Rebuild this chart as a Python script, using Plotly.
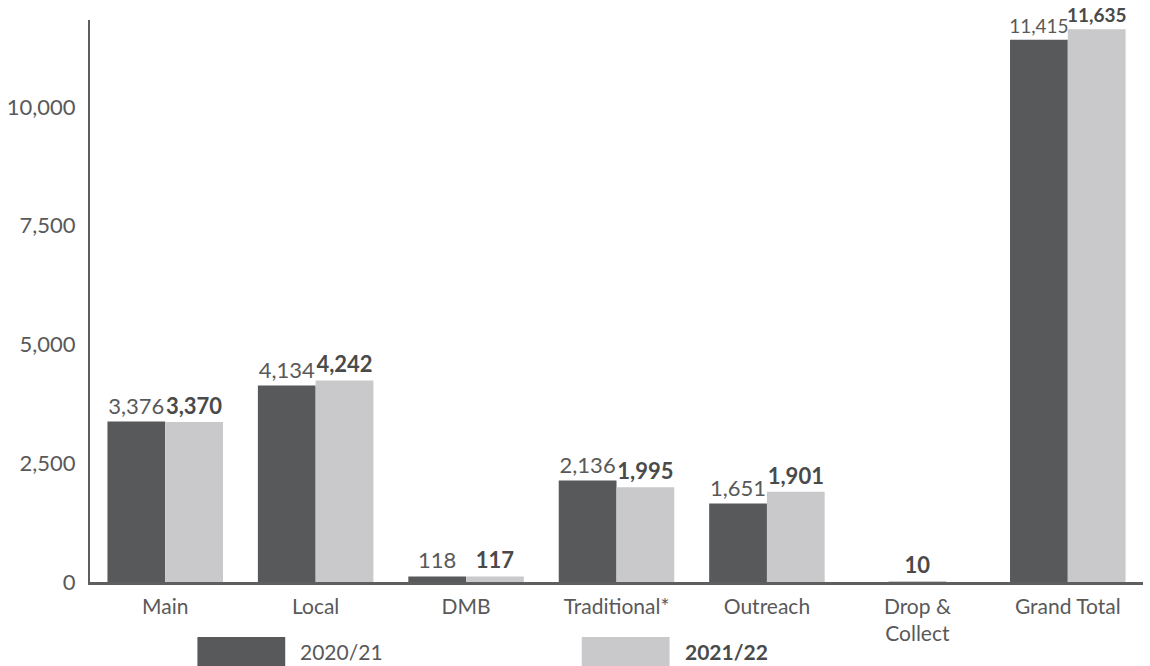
import plotly.graph_objects as go

categories = ["Main", "Local", "DMB", "Traditional*", "Outreach", "Drop &<br>Collect", "Grand Total"]
series_names = ["2020/21", "2021/22"]
values_2021 = [3376, 4134, 118, 2136, 1651, None, 11415]
values_2122 = [3370, 4242, 117, 1995, 1901, 10, 11635]
y_ticks = [0, 2500, 5000, 7500, 10000]

DARK = "#58595b"
LIGHT = "#c9c9cb"
TEXT = "#595959"
BOLD_TEXT = "#4a4a4a"
FONT = "Lato"
FS = 22

W = 0.384  # bar width in category units
x_idx = list(range(len(categories)))

off_dark = [-W] * len(categories)
off_light = [(-W / 2 if v0 is None else 0.0) for v0 in values_2021]
# slightly smaller labels where two five-digit numbers sit side by side
label_sizes = [FS if max(a or 0, b or 0) < 10000 else FS - 3
               for a, b in zip(values_2021, values_2122)]

fig = go.Figure()
fig.add_trace(go.Bar(
    x=x_idx, y=values_2021, name=series_names[0],
    marker=dict(color=DARK, line=dict(width=0)),
    width=W, offset=off_dark,
    text=[None if v is None else f"{v:,}" for v in values_2021],
    textposition="outside", constraintext="none", cliponaxis=False,
    textfont=dict(family=FONT, size=label_sizes, color=TEXT),
    showlegend=False,
))
fig.add_trace(go.Bar(
    x=x_idx, y=values_2122, name=series_names[1],
    marker=dict(color=LIGHT, line=dict(width=0)),
    width=W, offset=off_light,
    text=[f"<b>{v:,}</b>" for v in values_2122],
    textposition="outside", constraintext="none", cliponaxis=False,
    textfont=dict(family=FONT, size=label_sizes, color=BOLD_TEXT),
    showlegend=False,
))

# legend drawn as large swatches
legend_items = [
    (series_names[0], DARK, 0.102, False),
    (series_names[1], LIGHT, 0.467, True),
]
for name, color, x0, bold in legend_items:
    fig.add_shape(type="rect", xref="paper", yref="paper",
                  x0=x0, x1=x0 + 0.0834, y0=-0.098, y1=-0.16,
                  fillcolor=color, line=dict(width=0))
    fig.add_annotation(xref="paper", yref="paper", x=x0 + 0.096, y=-0.124,
                       text=(f"<b>{name}</b>" if bold else name),
                       showarrow=False, xanchor="left", yanchor="middle",
                       font=dict(family=FONT, size=FS - 1, color=(BOLD_TEXT if bold else TEXT)))

fig.update_layout(
    width=1150, height=666,
    margin=dict(l=87, r=7, t=20, b=84),
    paper_bgcolor="white", plot_bgcolor="white",
    barmode="overlay",
    font=dict(family=FONT, size=FS, color=TEXT),
    xaxis=dict(
        range=[-0.5, 6.5],
        tickmode="array", tickvals=x_idx, ticktext=categories,
        showline=True, linecolor="#5e5e5e", linewidth=2.5,
        showgrid=False, zeroline=False, ticks="",
        tickfont=dict(family=FONT, size=FS - 1, color=TEXT),
        ticklabelstandoff=4,
    ),
    yaxis=dict(
        range=[0, 11830],
        tickmode="array", tickvals=y_ticks, tickformat=",",
        showline=True, linecolor="#5e5e5e", linewidth=2,
        showgrid=False, zeroline=False, ticks="",
        tickfont=dict(family=FONT, size=FS, color=TEXT),
        ticklabelstandoff=8,
    ),
)

fig.write_html("out.html")
